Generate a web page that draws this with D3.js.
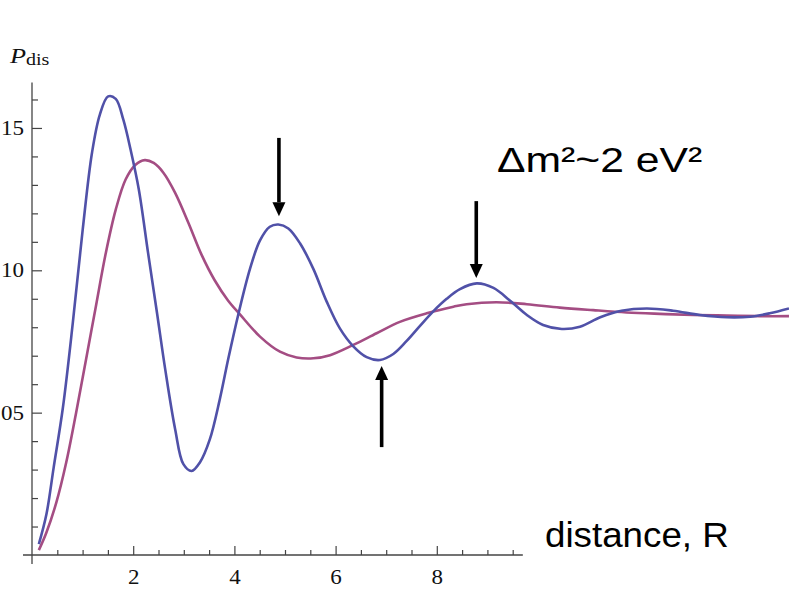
<!DOCTYPE html>
<html lang="en">
<head>
<meta charset="UTF-8">
<title>P_dis vs distance</title>
<script src="https://cdnjs.cloudflare.com/ajax/libs/d3/7.8.5/d3.min.js"></script>
<style>
  * { margin: 0; padding: 0; }
  body { background: #fff; overflow: hidden; }
  svg { display: block; }
</style>
</head>
<body>
<div id="chart"></div>
<script>
const width = 789, height = 608;

// blue curve, sampled like the original plot
const blueR = [0.135, 0.285, 0.428, 0.611, 0.807, 1.002, 1.185, 1.341, 1.505, 1.655, 1.805, 1.948,
  2.111, 2.294, 2.470, 2.633, 2.829, 2.992, 3.155, 3.318, 3.514, 3.709, 3.88, 4.077, 4.308, 4.506,
  4.70, 4.868, 5.066, 5.296, 5.56, 5.824, 6.087, 6.35, 6.614, 6.877, 7.14, 7.405, 7.668, 7.93, 8.195,
  8.458, 8.79, 9.12, 9.45, 9.78, 10.1, 10.47, 10.83, 11.23, 11.65, 12.15, 12.67, 13.2, 13.73, 14.19,
  14.58, 14.96];
const blueP = [0.0038, 0.0143, 0.0307, 0.0518, 0.0816, 0.1143, 0.1412, 0.1547, 0.1611, 0.1602, 0.1529, 0.1424,
  0.1284, 0.1061, 0.0851, 0.0652, 0.0442, 0.0319, 0.0295, 0.0325, 0.0406, 0.0545, 0.0690, 0.0845, 0.1005, 0.1105,
  0.1153, 0.1161, 0.1147, 0.1095, 0.1005, 0.0890, 0.0795, 0.0733, 0.0695, 0.0685, 0.0706, 0.0752, 0.0805, 0.0856, 0.0900,
  0.0934, 0.0954, 0.0938, 0.0893, 0.0843, 0.0808, 0.0794, 0.0802, 0.0835, 0.0858, 0.0866, 0.0858, 0.0843, 0.0835, 0.0837,
  0.0849, 0.0866];

// magenta curve
const pinkR = [0.135, 0.285, 0.48, 0.676, 0.872, 1.068, 1.263, 1.459, 1.655, 1.85, 2.046, 2.229, 2.405,
  2.60, 2.829, 3.09, 3.35, 3.61, 3.87, 4.11, 4.506, 4.90, 5.23, 5.56, 5.89, 6.35, 6.81, 7.27, 7.80,
  8.33, 8.59, 9.18, 9.78, 10.43, 11.09, 11.75, 12.41, 13.07, 13.73, 14.39, 14.96];
const pinkP = [0.0017, 0.0079, 0.0184, 0.0325, 0.050, 0.0687, 0.0874, 0.1061, 0.1213, 0.1319, 0.1371, 0.1387, 0.1377,
  0.1342, 0.1272, 0.1167, 0.1055, 0.0965, 0.0895, 0.0845, 0.0767, 0.0714, 0.0694, 0.0691, 0.0702, 0.0738, 0.0779, 0.0819, 0.0849,
  0.0872, 0.0881, 0.0888, 0.0881, 0.0869, 0.0860, 0.0852, 0.0847, 0.0843, 0.0841, 0.0839, 0.0839];

const xMajor = [2, 4, 6, 8];
const xMinor = [0.5, 1, 1.5, 2.5, 3, 3.5, 4.5, 5, 5.5, 6.5, 7, 7.5, 8.5, 9, 9.5];
const yMajor = [0.05, 0.10, 0.15];
const yMinor = [0.01, 0.02, 0.03, 0.04, 0.06, 0.07, 0.08, 0.09, 0.11, 0.12, 0.13, 0.14, 0.16];

// arrows: position, tail and tip (data units)
const arrowX = [4.88, 8.78, 6.91];
const arrowTail = [0.1465, 0.1243, 0.0379];
const arrowTip = [0.1190, 0.0973, 0.0664];

const x = d3.scaleLinear().domain([0, 15]).range([32, 791]);
const y = d3.scaleLinear().domain([0, 0.166]).range([555, 82.4]);

const svg = d3.select('#chart')
  .append('svg')
  .attr('width', width)
  .attr('height', height);

const serif = '"Liberation Serif", "Times New Roman", serif';
const sans = '"Liberation Sans", Arial, Helvetica, sans-serif';
const axisColor = '#444';
const stretch = 1.15;   // the original picture is a bit wider than tall

// x axis: ticks point up, labels below
const xMinorAxis = d3.axisBottom(x).tickValues(xMinor).tickSize(-5).tickFormat('');
const xMajorAxis = d3.axisBottom(x).tickValues(xMajor).tickSize(-9).tickPadding(15).tickFormat(d3.format('d'));

const gxMinor = svg.append('g').attr('transform', `translate(0,${y(0)})`).call(xMinorAxis);
const gx = svg.append('g').attr('transform', `translate(0,${y(0)})`).call(xMajorAxis);

// y axis: ticks point right
const yMinorAxis = d3.axisLeft(y).tickValues(yMinor).tickSize(-6).tickFormat('');
const yMajorAxis = d3.axisLeft(y).tickValues(yMajor).tickSize(-10).tickPadding(8)
  .tickFormat(d => d3.format('.2f')(d).slice(2));   // left part cropped in the original

const gyMinor = svg.append('g').attr('transform', `translate(${x(0)},0)`).call(yMinorAxis);
const gy = svg.append('g').attr('transform', `translate(${x(0)},0)`).call(yMajorAxis);

[gxMinor, gx, gyMinor, gy].forEach(g => {
  g.select('.domain').remove();
  g.selectAll('line').attr('stroke', axisColor).attr('stroke-width', 1.2);
  g.selectAll('text')
    .attr('fill', '#111')
    .style('font-family', serif)
    .style('font-size', '20px');
});
gx.selectAll('text').attr('transform', `scale(${stretch},1)`);
gy.selectAll('text')
  .attr('x', -8 / stretch)
  .attr('transform', `scale(${stretch},1)`);

// axis lines, extending a little past the origin
svg.append('line')
  .attr('x1', x(0) - 9).attr('x2', x(9.7))
  .attr('y1', y(0)).attr('y2', y(0))
  .attr('stroke', axisColor).attr('stroke-width', 1.3);
svg.append('line')
  .attr('x1', x(0)).attr('x2', x(0))
  .attr('y1', y(0) + 9).attr('y2', y(0.166))
  .attr('stroke', axisColor).attr('stroke-width', 1.3);

// axis label P_dis
const pl = svg.append('text')
  .attr('transform', 'translate(10,63) scale(1.25,1)')
  .style('font-family', serif)
  .attr('fill', '#111');
pl.append('tspan').text('P').style('font-style', 'italic').style('font-size', '21px');
pl.append('tspan').text('dis').attr('dy', 2).style('font-size', '16px');

// curves
const line = d3.line()
  .x(d => x(d[0]))
  .y(d => y(d[1]))
  .curve(d3.curveCatmullRom.alpha(0.5));

const series = [
  { r: pinkR, p: pinkP, color: '#a44d83' },
  { r: blueR, p: blueP, color: '#5051a8' }
];

svg.selectAll('.curve')
  .data(series)
  .enter()
  .append('path')
  .attr('class', 'curve')
  .attr('fill', 'none')
  .attr('stroke', d => d.color)
  .attr('stroke-width', 2.6)
  .attr('stroke-linejoin', 'round')
  .attr('d', d => line(d.r.map((v, i) => [v, d.p[i]])));

// arrows
const headLen = 14, headHalf = 6.5;
arrowX.forEach((ax, i) => {
  const cx = x(ax);
  const tail = y(arrowTail[i]);
  const tip = y(arrowTip[i]);
  const dir = tip > tail ? 1 : -1;
  svg.append('line')
    .attr('x1', cx).attr('x2', cx)
    .attr('y1', tail).attr('y2', tip - dir * headLen)
    .attr('stroke', '#000').attr('stroke-width', 3.6);
  svg.append('path')
    .attr('d', `M${cx - headHalf},${tip - dir * headLen}L${cx + headHalf},${tip - dir * headLen}L${cx},${tip}Z`)
    .attr('fill', '#000');
});

// annotations
svg.append('text')
  .attr('transform', 'translate(497,172) scale(1.22,1)')
  .style('font-family', sans)
  .style('font-size', '35px')
  .attr('fill', '#000')
  .text('Δm²~2 eV²');

svg.append('text')
  .attr('transform', 'translate(545,547) scale(1.05,1)')
  .style('font-family', sans)
  .style('font-size', '35px')
  .attr('fill', '#000')
  .text('distance, R');
</script>
</body>
</html>
